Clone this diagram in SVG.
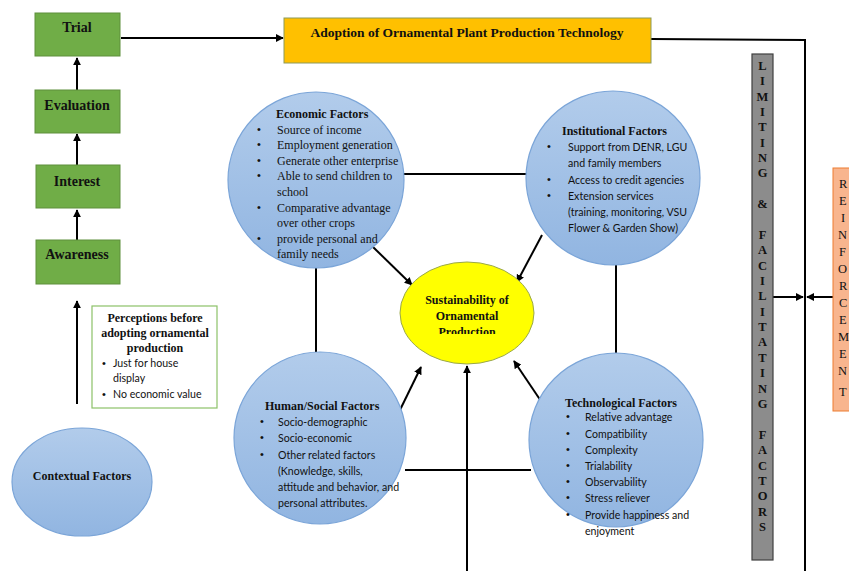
<svg xmlns="http://www.w3.org/2000/svg" width="849" height="571" viewBox="0 0 849 571">
  <style>
    .bg { fill: #ffffff; }
    .stage { fill: #70AD47; stroke: #5E8F3C; stroke-width: 1; }
    .stage-t { font-family: "Liberation Serif", serif; font-weight: bold; font-size: 14px; fill: #111; text-anchor: middle; }
    .factor { fill: url(#blueFill); stroke: #7BA5D8; stroke-width: 1.2; }
    .title { font-family: "Liberation Serif", serif; font-weight: bold; font-size: 12px; fill: #111; }
    .serif { font-family: "Liberation Serif", serif; font-size: 12px; fill: #111; }
    .sans { font-family: Lato, "Liberation Sans", sans-serif; font-size: 10.6px; fill: #111; }
    .dot { font-family: "Liberation Sans", sans-serif; font-size: 11px; fill: #111; }
    .link { stroke: #000; stroke-width: 2; fill: none; }
    .arrow { stroke: #000; stroke-width: 2; fill: none; marker-end: url(#head); }
    .letters { font-family: "Liberation Serif", serif; font-size: 12.5px; fill: #111; text-anchor: middle; }
  </style>
  <defs>
    <linearGradient id="blueFill" x1="0" y1="0" x2="0" y2="1">
      <stop offset="0" stop-color="#B2CCEB"/>
      <stop offset="1" stop-color="#91B5E1"/>
    </linearGradient>
    <marker id="head" viewBox="0 0 10 10" refX="9" refY="5" markerWidth="4" markerHeight="4" orient="auto-start-reverse">
      <path d="M0,0 L10,5 L0,10 Z" fill="#000"/>
    </marker>
    <clipPath id="coreClip">
      <rect x="400" y="280" width="140" height="54"/>
    </clipPath>
  </defs>

  <rect class="bg" x="0" y="0" width="849" height="571"/>

  <!-- connectors -->
  <g id="connectors">
    <path class="arrow" d="M77,90 L77,58"/>
    <path class="arrow" d="M77,165 L77,134"/>
    <path class="arrow" d="M77,240 L77,210"/>
    <path class="arrow" d="M77,404 L77,301"/>
    <path class="arrow" d="M121,38 L283,38"/>
    <path class="link" d="M651,39 L805,40 L805,571"/>
    <path class="arrow" d="M773,297 L803,297"/>
    <path class="arrow" d="M833,297 L807,297"/>
    <path class="link" d="M403,174 L528,174"/>
    <path class="link" d="M316,268 L316,352"/>
    <path class="link" d="M616,265 L616,354"/>
    <path class="link" d="M405,470 L531,470"/>
    <path class="arrow" d="M467,571 L467,366"/>
    <path class="arrow" d="M373,247 L412,285"/>
    <path class="arrow" d="M542,235 L517,282"/>
    <path class="arrow" d="M399,412 L421,367"/>
    <path class="arrow" d="M547,410 L514,361"/>
  </g>

  <!-- adoption stages -->
  <g id="trial">
    <rect class="stage" x="35" y="13" width="85" height="43"/>
    <text class="stage-t" x="77" y="32">Trial</text>
  </g>
  <g id="evaluation">
    <rect class="stage" x="35" y="90" width="85" height="43"/>
    <text class="stage-t" x="77" y="110">Evaluation</text>
  </g>
  <g id="interest">
    <rect class="stage" x="36" y="165" width="84" height="43"/>
    <text class="stage-t" x="77" y="186">Interest</text>
  </g>
  <g id="awareness">
    <rect class="stage" x="36" y="240" width="84" height="44"/>
    <text class="stage-t" x="77" y="259">Awareness</text>
  </g>

  <!-- adoption outcome -->
  <g id="adoption">
    <rect x="284" y="18" width="367" height="45" fill="#FFC000" stroke="#8C9A5A" stroke-width="1"/>
    <text x="467" y="37" text-anchor="middle" font-family="Liberation Serif, serif" font-weight="bold" font-size="13.5px" fill="#111">Adoption of Ornamental Plant Production Technology</text>
  </g>

  <!-- perceptions box -->
  <g id="perceptions">
    <rect x="92" y="306" width="125" height="102" fill="#fff" stroke="#8CC168" stroke-width="1.2"/>
    <text class="title" x="155" y="322" text-anchor="middle">Perceptions before</text>
    <text class="title" x="155" y="337" text-anchor="middle">adopting ornamental</text>
    <text class="title" x="155" y="352" text-anchor="middle">production</text>
    <text class="dot" x="102" y="367">•</text>
    <text class="sans" x="113" y="367">Just for house</text>
    <text class="sans" x="113" y="382">display</text>
    <text class="dot" x="102" y="398">•</text>
    <text class="sans" x="113" y="398">No economic value</text>
  </g>

  <!-- contextual factors -->
  <g id="contextual">
    <ellipse class="factor" cx="82" cy="482" rx="70" ry="54"/>
    <text class="title" x="82" y="480" text-anchor="middle" font-size="13px">Contextual Factors</text>
  </g>

  <!-- economic factors -->
  <g id="economic">
    <circle class="factor" cx="316" cy="180" r="88"/>
    <text class="title" x="276" y="118">Economic Factors</text>
    <g class="dot">
      <text x="257" y="133">•</text><text x="257" y="148">•</text><text x="257" y="164">•</text>
      <text x="257" y="179">•</text><text x="257" y="211">•</text><text x="257" y="242">•</text>
    </g>
    <text class="serif" x="277" y="134">Source of income</text>
    <text class="serif" x="277" y="149">Employment generation</text>
    <text class="serif" x="277" y="165">Generate other enterprise</text>
    <text class="serif" x="277" y="180">Able to send children to</text>
    <text class="serif" x="277" y="196">school</text>
    <text class="serif" x="277" y="212">Comparative advantage</text>
    <text class="serif" x="277" y="227">over other crops</text>
    <text class="serif" x="277" y="243">provide personal and</text>
    <text class="serif" x="277" y="258">family needs</text>
  </g>

  <!-- institutional factors -->
  <g id="institutional">
    <circle class="factor" cx="613" cy="178" r="87"/>
    <text class="title" x="562" y="135">Institutional Factors</text>
    <g class="dot">
      <text x="547" y="150">•</text><text x="547" y="183">•</text><text x="547" y="199">•</text>
    </g>
    <text class="sans" x="568" y="151">Support from DENR, LGU</text>
    <text class="sans" x="568" y="167">and family members</text>
    <text class="sans" x="568" y="184">Access to credit agencies</text>
    <text class="sans" x="568" y="200">Extension services</text>
    <text class="sans" x="568" y="216">(training, monitoring, VSU</text>
    <text class="sans" x="568" y="232">Flower &amp; Garden Show)</text>
  </g>

  <!-- human / social factors -->
  <g id="human">
    <circle class="factor" cx="320" cy="438" r="86"/>
    <text class="title" x="265" y="410">Human/Social Factors</text>
    <g class="dot">
      <text x="260" y="425">•</text><text x="260" y="441">•</text><text x="260" y="458">•</text>
    </g>
    <text class="sans" x="278" y="426">Socio-demographic</text>
    <text class="sans" x="278" y="442">Socio-economic</text>
    <text class="sans" x="278" y="459">Other related factors</text>
    <text class="sans" x="278" y="475">(Knowledge, skills,</text>
    <text class="sans" x="278" y="491">attitude and behavior, and</text>
    <text class="sans" x="278" y="507">personal attributes.</text>
  </g>

  <!-- technological factors -->
  <g id="technological">
    <circle class="factor" cx="616" cy="440" r="87"/>
    <text class="title" x="565" y="407">Technological Factors</text>
    <g class="dot">
      <text x="566" y="420">•</text><text x="566" y="437">•</text><text x="566" y="453">•</text>
      <text x="566" y="469">•</text><text x="566" y="485">•</text><text x="566" y="501">•</text>
      <text x="566" y="518">•</text>
    </g>
    <text class="sans" x="585" y="421">Relative advantage</text>
    <text class="sans" x="585" y="438">Compatibility</text>
    <text class="sans" x="585" y="454">Complexity</text>
    <text class="sans" x="585" y="470">Trialability</text>
    <text class="sans" x="585" y="486">Observability</text>
    <text class="sans" x="585" y="502">Stress reliever</text>
    <text class="sans" x="585" y="519">Provide happiness and</text>
    <text class="sans" x="585" y="535">enjoyment</text>
  </g>

  <!-- central outcome -->
  <g id="sustainability">
    <ellipse cx="467" cy="313" rx="67" ry="51" fill="#FFFF00" stroke="#9AA84A" stroke-width="1"/>
    <g clip-path="url(#coreClip)">
      <text class="title" x="467" y="304" text-anchor="middle">Sustainability of</text>
      <text class="title" x="467" y="320" text-anchor="middle">Ornamental</text>
      <text class="title" x="467" y="336" text-anchor="middle">Production</text>
    </g>
  </g>

  <!-- limiting & facilitating factors column -->
  <g id="limiting">
    <rect x="752" y="54" width="21" height="506" fill="#8C8C8C" stroke="#404040" stroke-width="1.2"/>
    <g class="letters" font-weight="bold">
      <text x="762.5" y="70">L</text><text x="762.5" y="85">I</text><text x="762.5" y="101">M</text>
      <text x="762.5" y="116">I</text><text x="762.5" y="131">T</text><text x="762.5" y="147">I</text>
      <text x="762.5" y="162">N</text><text x="762.5" y="177">G</text>
      <text x="762.5" y="208">&amp;</text>
      <text x="762.5" y="239">F</text><text x="762.5" y="254">A</text><text x="762.5" y="270">C</text>
      <text x="762.5" y="285">I</text><text x="762.5" y="300">L</text><text x="762.5" y="316">I</text>
      <text x="762.5" y="331">T</text><text x="762.5" y="346">A</text><text x="762.5" y="362">T</text>
      <text x="762.5" y="377">I</text><text x="762.5" y="393">N</text><text x="762.5" y="408">G</text>
      <text x="762.5" y="439">F</text><text x="762.5" y="454">A</text><text x="762.5" y="470">C</text>
      <text x="762.5" y="485">T</text><text x="762.5" y="500">O</text><text x="762.5" y="516">R</text>
      <text x="762.5" y="531">S</text>
    </g>
  </g>

  <!-- reinforcement column -->
  <g id="reinforcement">
    <rect x="833" y="168" width="30" height="243" fill="#F8B58E" stroke="#ED7D31" stroke-width="1"/>
    <g class="letters" text-anchor="start" style="text-anchor:start">
      <text x="839" y="188">R</text><text x="839" y="205">E</text><text x="841" y="222">I</text>
      <text x="838" y="239">N</text><text x="839" y="256">F</text><text x="838" y="273">O</text>
      <text x="839" y="290">R</text><text x="839" y="307">C</text><text x="839" y="324">E</text>
      <text x="838" y="341">M</text><text x="839" y="358">E</text><text x="838" y="375">N</text>
      <text x="839" y="396">T</text>
    </g>
  </g>
</svg>
